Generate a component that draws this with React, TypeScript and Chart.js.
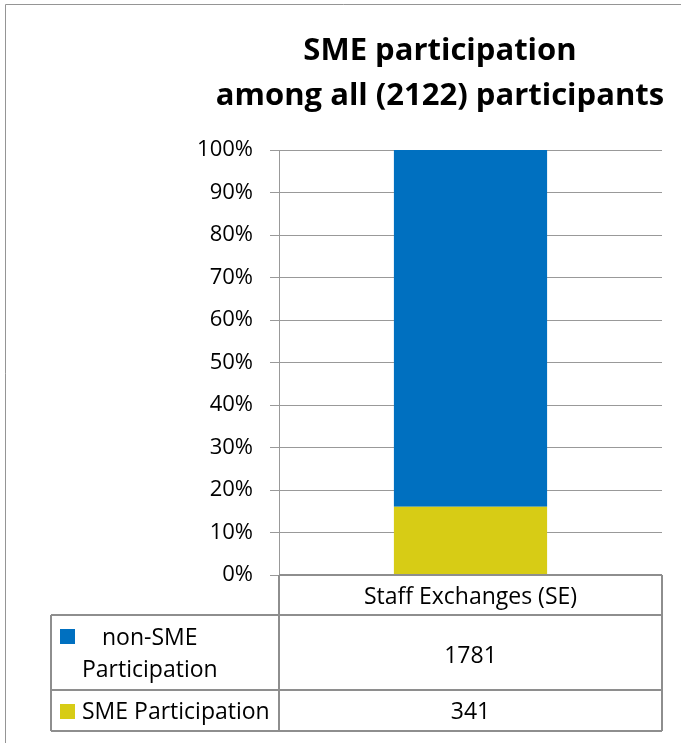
import React, { useEffect, useRef } from "react";
import { Chart, registerables } from "chart.js";

Chart.register(...registerables);

const categories = ["Staff Exchanges (SE)"];
const seriesNames = ["SME Participation", "non-SME Participation"];
const smeValues = [341];
const nonSmeValues = [1781];
const seriesColors = ["#D7CC15", "#0070C0"];
const titleLines = ["SME participation", "among all (2122) participants"];
const yTickMax = 100;
const yTickStep = 10;

const FONT = "'Open Sans', 'DejaVu Sans', sans-serif";
const GRID = "#999999";
const TABLE_LINE = "#8e8e8e";

const totals = smeValues.map((v, i) => v + nonSmeValues[i]);
const smePct = smeValues.map((v, i) => (v / totals[i]) * 100);
const nonSmePct = nonSmeValues.map((v, i) => (v / totals[i]) * 100);

const tablePlugin = {
  id: "tableAndTitle",
  afterDraw(chart: any) {
    const ctx = chart.ctx as CanvasRenderingContext2D;
    const area = chart.chartArea;
    const xs = chart.scales.x;
    ctx.save();

    // outer frame
    ctx.strokeStyle = "#959595";
    ctx.lineWidth = 1;
    ctx.beginPath();
    ctx.moveTo(5.5, 743);
    ctx.lineTo(5.5, 4.5);
    ctx.lineTo(681, 4.5);
    ctx.stroke();

    // title
    ctx.fillStyle = "#000";
    ctx.font = `bold 31px ${FONT}`;
    ctx.textAlign = "center";
    ctx.textBaseline = "alphabetic";
    const titleX = 440;
    ctx.fillText(titleLines[0], titleX, 60);
    ctx.fillText(titleLines[1], titleX, 105);

    // data table
    const left = 51;
    const top = area.bottom;
    const headBottom = top + 40;
    const row1Bottom = headBottom + 75;
    const row2Bottom = row1Bottom + 41;
    const mid = area.left;
    const right = area.right;

    ctx.strokeStyle = TABLE_LINE;
    ctx.lineWidth = 2;
    ctx.beginPath();
    ctx.moveTo(mid, top);
    ctx.lineTo(right, top);
    ctx.moveTo(left, headBottom);
    ctx.lineTo(right, headBottom);
    ctx.moveTo(left, row1Bottom);
    ctx.lineTo(right, row1Bottom);
    ctx.moveTo(left, row2Bottom);
    ctx.lineTo(right, row2Bottom);
    ctx.moveTo(mid, top);
    ctx.lineTo(mid, row2Bottom);
    ctx.moveTo(right, top);
    ctx.lineTo(right, row2Bottom);
    ctx.moveTo(left, headBottom);
    ctx.lineTo(left, row2Bottom);
    ctx.stroke();

    ctx.font = `23px ${FONT}`;
    ctx.fillStyle = "#000";
    ctx.textAlign = "center";
    categories.forEach((c, i) => {
      const cx = xs.getPixelForValue(i);
      ctx.fillText(c, cx, top + 29);
      ctx.fillText(String(nonSmeValues[i]), cx, headBottom + 48);
      ctx.fillText(String(smeValues[i]), cx, row1Bottom + 29);
    });

    // legend keys + row labels
    ctx.fillStyle = seriesColors[1];
    ctx.fillRect(60, headBottom + 14, 15, 15);
    ctx.fillStyle = seriesColors[0];
    ctx.fillRect(60, row1Bottom + 14, 15, 15);

    ctx.fillStyle = "#000";
    ctx.textAlign = "left";
    const nonParts = seriesNames[1].split(" ");
    ctx.fillText(nonParts[0], 102, headBottom + 30);
    ctx.fillText(nonParts[1], 82, headBottom + 62);
    ctx.fillText(seriesNames[0], 82, row1Bottom + 29);

    ctx.restore();
  },
};

export default function App() {
  const ref = useRef<HTMLCanvasElement | null>(null);

  useEffect(() => {
    if (!ref.current) return;
    const chart = new Chart(ref.current, {
      type: "bar",
      data: {
        labels: categories,
        datasets: [
          {
            label: seriesNames[0],
            data: smePct,
            backgroundColor: seriesColors[0],
            borderWidth: 0,
            barPercentage: 0.4,
            categoryPercentage: 1,
          },
          {
            label: seriesNames[1],
            data: nonSmePct,
            backgroundColor: seriesColors[1],
            borderWidth: 0,
            barPercentage: 0.4,
            categoryPercentage: 1,
          },
        ],
      },
      options: {
        responsive: false,
        animation: false,
        events: [],
        layout: { padding: { left: 0, right: 19, top: 150, bottom: 168 } },
        plugins: {
          legend: { display: false },
          title: { display: false },
          tooltip: { enabled: false },
        },
        scales: {
          x: {
            display: false,
            stacked: true,
          },
          y: {
            stacked: true,
            min: 0,
            max: yTickMax,
            afterFit: (scale: any) => {
              scale.width = 279;
            },
            ticks: {
              stepSize: yTickStep,
              padding: 17,
              color: "#000",
              font: { family: FONT, size: 22 },
              callback: (v: any) => `${v}%`,
            },
            grid: {
              color: GRID,
              lineWidth: 1,
              tickLength: 9,
            },
            border: { color: GRID, width: 1 },
          },
        },
      },
      plugins: [tablePlugin],
    });
    return () => chart.destroy();
  }, []);

  return (
    <div style={{ position: "absolute", left: 0, top: 0, width: 681, height: 743, background: "#fff" }}>
      <canvas ref={ref} width={681} height={743} style={{ display: "block" }} />
    </div>
  );
}
